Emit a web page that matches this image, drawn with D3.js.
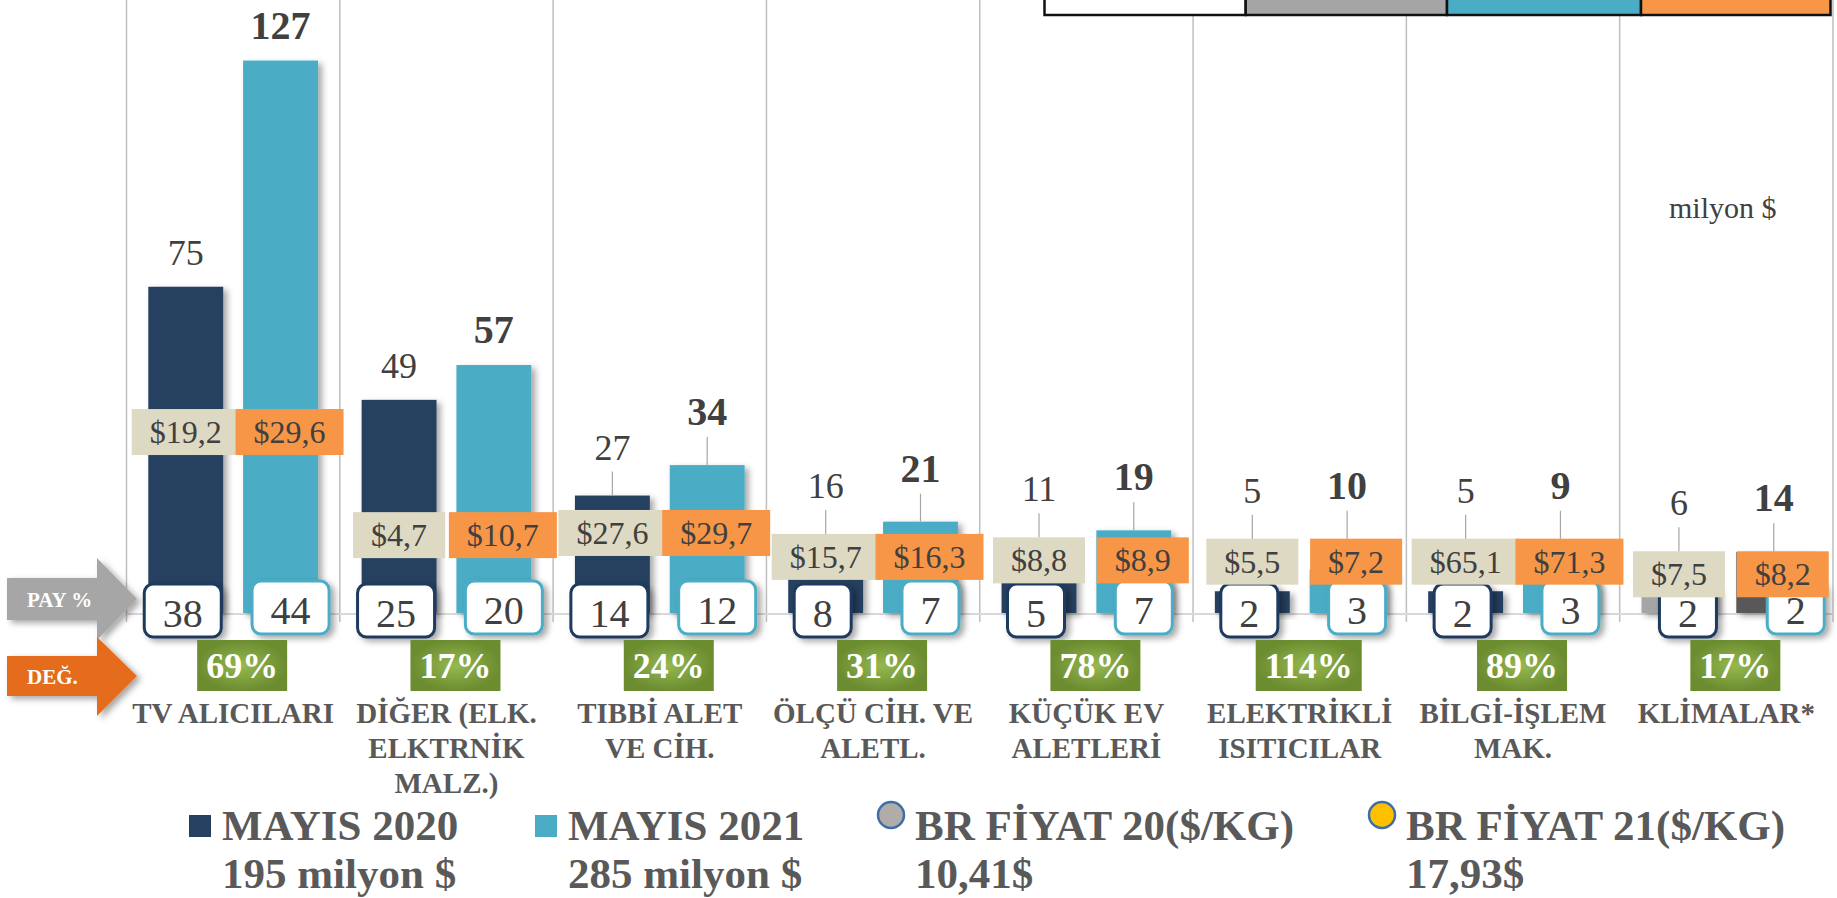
<!DOCTYPE html>
<html>
<head>
<meta charset="utf-8">
<script src="https://cdn.jsdelivr.net/npm/d3@7"></script>
<style>
  html, body { margin: 0; padding: 0; background: #fff; overflow: hidden; }
  svg { display: block; font-family: "Liberation Serif", "Times New Roman", serif; }
</style>
</head>
<body>
<svg id="chart" width="1837" height="898"></svg>
<script>
// categories, "|" marks a line break in the axis label
var categories = ["TV ALICILARI", "DİĞER (ELK.|ELKTRNİK|MALZ.)", "TIBBİ ALET|VE CİH.", "ÖLÇÜ CİH. VE|ALETL.",
                  "KÜÇÜK EV|ALETLERİ", "ELEKTRİKLİ|ISITICILAR", "BİLGİ-İŞLEM|MAK.", "KLİMALAR*"];
var may2020 = [75, 49, 27, 16, 11, 5, 5, 6];          // milyon $
var may2021 = [127, 57, 34, 21, 19, 10, 9, 14];
var price2020 = [19.2, 4.7, 27.6, 15.7, 8.8, 5.5, 65.1, 7.5];   // $/kg
var price2021 = [29.6, 10.7, 29.7, 16.3, 8.9, 7.2, 71.3, 8.2];
var share2020 = [38, 25, 14, 8, 5, 2, 2, 2];          // PAY %
var share2021 = [44, 20, 12, 7, 7, 3, 3, 2];
var change = [69, 17, 24, 31, 78, 114, 89, 17];        // DEĞ. %
var legendNames = ["MAYIS 2020", "MAYIS 2021", "BR FİYAT 20($/KG)", "BR FİYAT 21($/KG)"];
var legendTotals = ["195 milyon $", "285 milyon $", "10,41$", "17,93$"];

// where the price boxes sit, in units of the value axis (hand placed in the original)
var priceLevel = [41.6, 17.9, 18.4, 12.9, 12.1, 11.8, 11.8, 8.9];

var svg = d3.select("#chart");
var comma = function(v) { return "$" + String(v).replace(".", ","); };

var defs = svg.append("defs");
var sh = defs.append("filter").attr("id", "shadow").attr("x", "-20%").attr("y", "-20%").attr("width", "150%").attr("height", "150%");
sh.append("feDropShadow").attr("dx", 4).attr("dy", 3).attr("stdDeviation", 3)
  .attr("flood-color", "#000").attr("flood-opacity", 0.35);
var gr = defs.append("radialGradient").attr("id", "green");
gr.append("stop").attr("offset", "0%").attr("stop-color", "#95B950");
gr.append("stop").attr("offset", "100%").attr("stop-color", "#6C8C30");

var x = d3.scaleBand().domain(d3.range(categories.length)).range([126.5, 1833]).padding(0);
var xi = d3.scaleBand().domain([0, 1]).range([0, x.bandwidth()]).paddingInner(0.21).paddingOuter(0.23);
var y = d3.scaleLinear().domain([0, 140]).range([613, 4]);

// vertical category gridlines
svg.append("g").selectAll("line")
  .data(d3.range(categories.length + 1))
  .enter().append("line")
    .attr("x1", function(i) { return i < categories.length ? x(i) : x(i - 1) + x.bandwidth(); })
    .attr("x2", function(i) { return i < categories.length ? x(i) : x(i - 1) + x.bandwidth(); })
    .attr("y1", 0).attr("y2", y(0) + 9)
    .attr("stroke", "#BFBFBF").attr("stroke-width", 1.5);

svg.append("line")
  .attr("x1", x(0)).attr("x2", x(categories.length - 1) + x.bandwidth())
  .attr("y1", y(0) + 1).attr("y2", y(0) + 1)
  .attr("stroke", "#D9D9D9").attr("stroke-width", 2);

// bars
var rows = categories.map(function(c, i) {
  return { i: i, vals: [may2020[i], may2021[i]], prices: [price2020[i], price2021[i]],
           shares: [share2020[i], share2021[i]] };
});
var barColors = [["#254061", "#4BACC6"], ["#A5A5A5", "#595959"]];  // second pair: KLİMALAR

var groups = svg.append("g").selectAll("g")
  .data(rows)
  .enter().append("g")
    .attr("transform", function(d) { return "translate(" + x(d.i) + ",0)"; });

groups.selectAll("rect.bar")
  .data(function(d) { return d.vals.map(function(v, k) { return { k: k, v: v, i: d.i }; }); })
  .enter().append("rect")
    .attr("class", "bar")
    .attr("x", function(d) { return xi(d.k); })
    .attr("width", xi.bandwidth())
    .attr("y", function(d) { return y(d.v); })
    .attr("height", function(d) { return y(0) - y(d.v); })
    .attr("fill", function(d) { return barColors[d.i === 7 ? 1 : 0][d.k]; })
    .attr("filter", "url(#shadow)");

// PAY % boxes
var payOff = [-3, 10], payTop = [584, 581];
groups.each(function(d) {
  var g = d3.select(this);
  d.shares.forEach(function(s, k) {
    var cx = xi(k) + xi.bandwidth() / 2 + payOff[k] + (d.i === 7 ? 12 : 0);
    var r = g.append("rect");
    var t = g.append("text")
      .attr("x", cx).attr("y", payTop[k] + 43)
      .attr("text-anchor", "middle")
      .attr("font-size", 40).attr("fill", "#404040")
      .text(s);
    var w = t.node().getComputedTextLength() + 37;
    r.attr("x", cx - w / 2).attr("y", payTop[k]).attr("width", w).attr("height", 53)
     .attr("rx", 9).attr("fill", "#fff")
     .attr("stroke", k === 0 ? "#1F3B5E" : "#4BACC6").attr("stroke-width", 3)
     .attr("filter", "url(#shadow)");
  });
});

// price boxes (beige = 2020, orange = 2021), drawn above the PAY boxes
var priceOff = [0, 9];
var boxH = 46;
var priceTop = [];
groups.each(function(d) {
  var g = d3.select(this);
  priceTop[d.i] = [];
  d.prices.forEach(function(p, k) {
    var cx = xi(k) + xi.bandwidth() / 2 + priceOff[k];
    var cy = y(priceLevel[d.i]);
    var pg = g.append("g");
    var r = pg.append("rect");
    var t = pg.append("text")
      .attr("x", cx).attr("y", cy + 11)
      .attr("text-anchor", "middle")
      .attr("font-size", 32).attr("fill", "#404040")
      .text(comma(p));
    var w = t.node().getComputedTextLength() + 36;
    r.attr("x", cx - w / 2).attr("y", cy - boxH / 2).attr("width", w).attr("height", boxH)
     .attr("fill", k === 0 ? "#DDD9C3" : "#F79646");
    priceTop[d.i][k] = cy - boxH / 2;
  });
});

// value labels with leader lines
groups.each(function(d) {
  var g = d3.select(this);
  d.vals.forEach(function(v, k) {
    var cx = xi(k) + xi.bandwidth() / 2;
    var top = y(v), bt = priceTop[d.i][k];
    var base;
    if (bt - top > 60) {
      base = top - 22;
    } else {
      var anchor = Math.min(top, bt);
      base = anchor - (k === 0 ? 36 : 40);
      g.append("line")
        .attr("x1", cx).attr("x2", cx)
        .attr("y1", base + 12).attr("y2", anchor)
        .attr("stroke", "#A6A6A6").attr("stroke-width", 1.2);
    }
    g.append("text")
      .attr("x", cx).attr("y", base)
      .attr("text-anchor", "middle")
      .attr("font-size", k === 0 ? 36 : 40)
      .attr("font-weight", k === 0 ? "normal" : "bold")
      .attr("fill", "#404040")
      .text(v);
  });
});

// DEĞ. boxes
groups.each(function(d) {
  var g = d3.select(this);
  var cx = x.bandwidth() / 2 + 9;
  var r = g.append("rect");
  var t = g.append("text")
    .attr("x", cx).attr("y", 678)
    .attr("text-anchor", "middle")
    .attr("font-size", 36).attr("font-weight", "bold").attr("fill", "#fff")
    .text(change[d.i] + "%");
  var w = t.node().getComputedTextLength() + 18;
  r.attr("x", cx - w / 2).attr("y", 640).attr("width", w).attr("height", 51).attr("fill", "url(#green)");
});

// category labels
groups.append("text")
  .attr("text-anchor", "middle")
  .attr("font-size", 29).attr("font-weight", "bold").attr("fill", "#595959")
  .selectAll("tspan")
  .data(function(d) { return categories[d.i].split("|"); })
  .enter().append("tspan")
    .attr("x", x.bandwidth() / 2)
    .attr("y", function(s, j) { return 723 + j * 35; })
    .text(function(s) { return s; });

// left arrows
function arrow(top, h, headTop, headBot, fill, label) {
  var mid = top + h / 2;
  svg.append("path")
    .attr("d", "M7," + top + "H97V" + headTop + "L137," + mid + "L97," + headBot + "V" + (top + h) + "H7Z")
    .attr("fill", fill).attr("filter", "url(#shadow)");
  svg.append("text")
    .attr("x", 27).attr("y", mid + 8)
    .attr("font-size", 21).attr("font-weight", "bold").attr("fill", "#fff")
    .text(label);
}
arrow(578, 42, 558, 640, "#A6A6A6", "PAY %");
arrow(656, 40, 637, 716, "#E46C1E", "DEĞ.");

// unit note
svg.append("text")
  .attr("x", 1669).attr("y", 218)
  .attr("font-size", 30).attr("fill", "#404040")
  .text("milyon $");

// boxed strip at the top right
var strip = [1044.5, 1245.7, 1447, 1641, 1830.5];
var stripFill = ["#fff", "#A5A5A5", "#4BACC6", "#F79646"];
svg.append("g").selectAll("rect")
  .data(stripFill)
  .enter().append("rect")
    .attr("x", function(c, i) { return strip[i]; })
    .attr("width", function(c, i) { return strip[i + 1] - strip[i]; })
    .attr("y", -10).attr("height", 25)
    .attr("fill", function(c) { return c; })
    .attr("stroke", "#111").attr("stroke-width", 2.5);

// legend
var legX = [189, 535, 877, 1368];
var legMark = ["#254061", "#4BACC6", "#B0ACAA", "#FFC000"];
var leg = svg.append("g").selectAll("g")
  .data(legendNames)
  .enter().append("g")
    .attr("transform", function(d, i) { return "translate(" + legX[i] + ",0)"; });
leg.each(function(d, i) {
  var g = d3.select(this);
  if (i < 2) {
    g.append("rect").attr("x", 0).attr("y", 815).attr("width", 22).attr("height", 22).attr("fill", legMark[i]);
  } else {
    g.append("circle").attr("cx", 14).attr("cy", 815).attr("r", 13)
      .attr("fill", legMark[i]).attr("stroke", "#3E6EA8").attr("stroke-width", 2.5);
  }
  var tx = i < 2 ? 33 : 38;
  g.append("text").attr("x", tx).attr("y", 840)
    .attr("font-size", 43).attr("font-weight", "bold").attr("fill", "#595959").text(d);
  g.append("text").attr("x", tx).attr("y", 888)
    .attr("font-size", 43).attr("font-weight", "bold").attr("fill", "#595959").text(legendTotals[i]);
});
</script>
</body>
</html>
